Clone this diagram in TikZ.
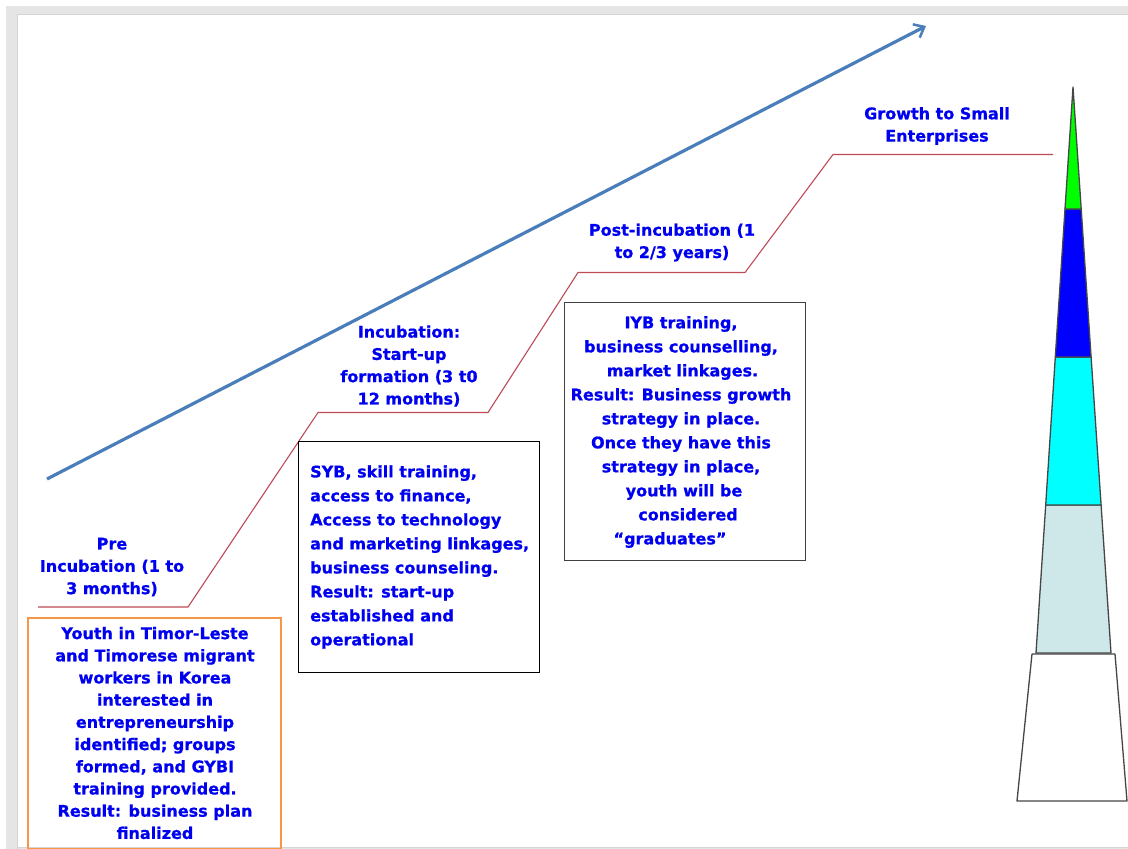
\documentclass[tikz,border=0pt]{standalone}
\usepackage{fontspec}
\setmainfont{DejaVu Sans}[BoldFeatures={FakeBold=0.8}]
\usetikzlibrary{arrows.meta}
\definecolor{arrowblue}{RGB}{74,126,187}
\definecolor{stepred}{RGB}{190,75,85}
\definecolor{boxorange}{RGB}{247,150,70}
\definecolor{txtblue}{RGB}{0,0,240}
\definecolor{lightcyan}{RGB}{206,232,234}
\definecolor{purecyan}{RGB}{0,255,255}
\definecolor{puregreen}{RGB}{0,255,0}
\definecolor{pureblue}{RGB}{0,0,255}
\definecolor{framegray}{RGB}{229,229,229}
\definecolor{frameedge}{RGB}{212,212,212}
\definecolor{pyredge}{RGB}{70,70,70}
\tikzset{
  lbl/.style={text=txtblue, font=\bfseries\fontsize{16}{22.3}\selectfont, align=center, inner sep=0pt},
  boxtxt/.style={text=txtblue, font=\bfseries\fontsize{16}{22.2}\selectfont, inner sep=0pt},
  stepline/.style={draw=stepred, line width=1.1pt},
  pyr/.style={draw=pyredge, line width=1.3pt, line join=round},
  framebox/.style={draw, rectangle, inner sep=0pt}
}
\begin{document}
\begin{tikzpicture}[x=1pt,y=-1pt]
\useasboundingbox (0,0) rectangle (1128,849);
% slide frame
\fill[white] (0,0) rectangle (1128,849);
\fill[framegray] (6,6) rectangle (1128,849);
\fill[white] (17,14) rectangle (1128,847);
\draw[frameedge, line width=0.8pt] (17,849) -- (17,14) -- (1128,14);
\draw[frameedge, line width=0.6pt] (17,847.5) -- (1128,847.5);

% growth arrow
\coordinate (arrS) at (47,479);
\coordinate (arrE) at (926,26);
\draw[arrowblue, line width=3.2pt, -{Straight Barb[length=9pt,width=15pt,line width=2.5pt]}] (arrS) -- (arrE);

% step line
\coordinate (s0) at (38,607);
\coordinate (s1) at (188,607);
\coordinate (s2) at (318,412.5);
\coordinate (s3) at (488,412.5);
\coordinate (s4) at (578,272.5);
\coordinate (s5) at (745,272.5);
\coordinate (s6) at (833,154.5);
\coordinate (s7) at (1053,154.5);
\draw[stepline] (s0) -- (s1) -- (s2) -- (s3) -- (s4) -- (s5) -- (s6) -- (s7);

% boxes
\node[framebox, draw=boxorange, line width=2pt, minimum width=253pt, minimum height=231pt] (orangebox) at (154.5,733) {};
\node[framebox, draw=black, line width=0.9pt, minimum width=241pt, minimum height=231pt] (sybbox) at (418.5,556.5) {};
\node[framebox, draw=black!75, line width=1pt, minimum width=241pt, minimum height=258pt] (iybbox) at (684.5,431) {};

% stage labels
\node[lbl] (prelbl) at (112,567) {Pre\\Incubation (1 to\\3 months)};
\node[lbl] (inclbl) at (409,366) {Incubation:\\Start-up\\formation (3 t0\\12 months)};
\node[lbl] (postlbl) at (672,242.5) {Post-incubation (1\\to 2/3 years)};
\node[lbl] (growlbl) at (937,126) {Growth to Small\\Enterprises};

% box texts
\node[boxtxt, align=center] (orangetxt) at (155,733) {Youth in Timor-Leste\\and Timorese migrant\\workers in Korea\\interested in\\entrepreneurship\\identified; groups\\formed, and GYBI\\training provided.\\Result: business plan\\finalized};
\node[boxtxt, align=left, anchor=west, font=\bfseries\fontsize{16}{24}\selectfont] (sybtxt) at (310,557) {SYB, skill training,\\access to finance,\\Access to technology\\and marketing linkages,\\business counseling.\\Result: start-up\\established and\\operational};
\node[boxtxt, align=center, font=\bfseries\fontsize{16}{24}\selectfont] (iybtxt) at (681,432) {IYB training,\\business counselling,\\\hspace*{3pt}market linkages.\\Result: Business growth\\strategy in place.\\Once they have this\\strategy in place,\\\hspace*{6pt}youth will be\\\hspace*{14pt}considered\\\hspace*{-22pt}“graduates”};

% pyramid
\filldraw[pyr, fill=white] (1032,654) -- (1115,654) -- (1127,801) -- (1017,801) -- cycle;
\filldraw[pyr, fill=lightcyan] (1045.7,505) -- (1101.1,505) -- (1111,653) -- (1036,653) -- cycle;
\filldraw[pyr, fill=purecyan] (1055.3,357) -- (1091.1,357) -- (1101.1,505) -- (1045.7,505) -- cycle;
\filldraw[pyr, fill=pureblue] (1065,209) -- (1081.2,209) -- (1091.1,357) -- (1055.3,357) -- cycle;
\filldraw[pyr, fill=puregreen] (1073,87) -- (1081.2,209) -- (1065,209) -- cycle;
\end{tikzpicture}
\end{document}
